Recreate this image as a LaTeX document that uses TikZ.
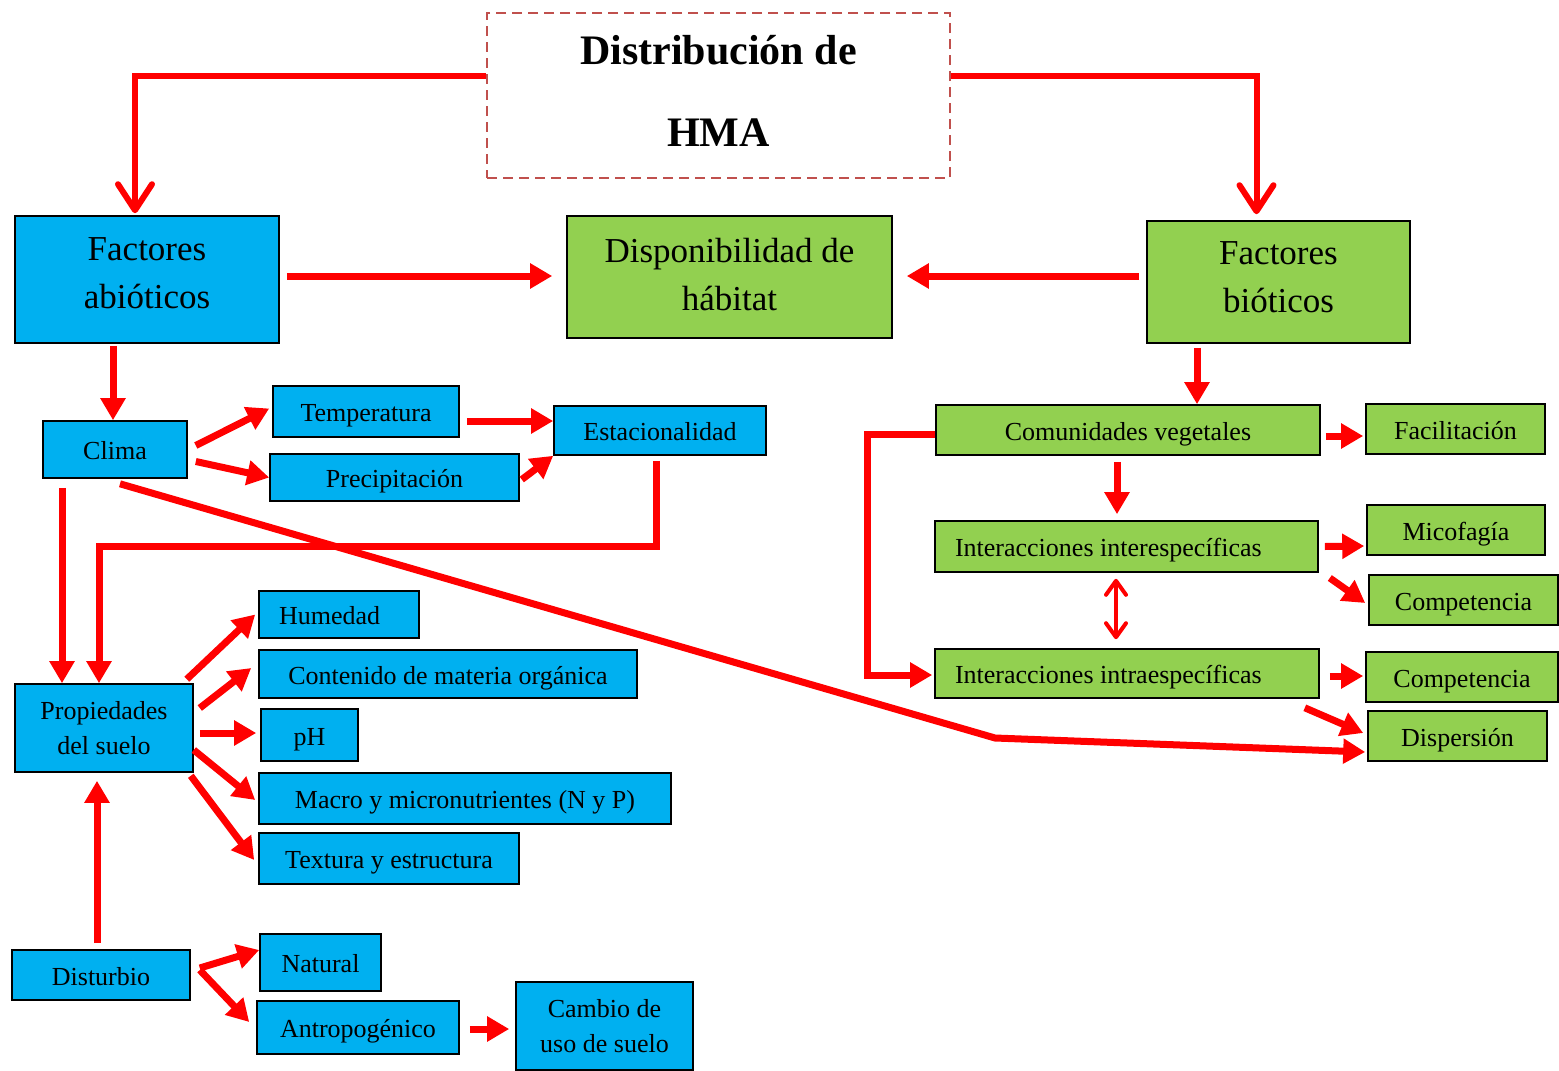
\documentclass[tikz,border=0pt]{standalone}
\usepackage{fontspec}
\setmainfont{Liberation Serif}
\usetikzlibrary{arrows.meta}
\definecolor{azul}{HTML}{00B0F0}
\definecolor{verde}{HTML}{92D050}
\definecolor{rojo}{HTML}{FF0000}
\definecolor{borde}{HTML}{C0504D}
\newcommand{\bajo}[1]{\rule[-#1]{0pt}{#1}}
\begin{document}
\begin{tikzpicture}[x=1pt,y=-1pt,
    caja/.style={draw=black, line width=1.6pt, inner sep=0pt},
    abiot/.style={caja, fill=azul},
    biot/.style={caja, fill=verde},
    grande/.style={font=\fontsize{35}{48}\selectfont, align=center},
    chica/.style={font=\fontsize{26}{35}\selectfont, align=center},
    una/.style={chica, text height=24pt, text depth=4pt},
    flecha/.style={draw=rojo, line width=7pt, -{Triangle[length=22pt,width=24pt]}},
    punta/.style={draw=rojo, line width=6pt, -{Straight Barb[length=26pt,width=34pt,round]}},
    doble/.style={draw=rojo, line width=4pt,
      {Straight Barb[length=14pt,width=20pt,round]}-{Straight Barb[length=14pt,width=20pt,round]}}]
        \useasboundingbox (0,0) rectangle (1559,1071);

        \node [draw=borde, line width=1.8pt, dash pattern=on 10pt off 6pt,
          minimum width=463pt, minimum height=165pt, align=center,
          font=\fontsize{42}{82}\selectfont\bfseries] (hma) at (718.5,95.5)
          {Distribución de\\HMA\bajo{10pt}};

        \node [abiot, grande, minimum width=264pt, minimum height=127pt] (abio) at (147,279.5) {Factores\\abióticos\bajo{12pt}};
        \node [biot, grande, minimum width=325pt, minimum height=122pt] (disp) at (729.5,277) {Disponibilidad de\\hábitat\bajo{6pt}};
        \node [biot, grande, minimum width=263pt, minimum height=122pt] (bio) at (1278.5,282) {Factores\\bióticos\bajo{10pt}};

        \node [abiot, una, minimum width=144pt, minimum height=57pt] (clima) at (115,449.5) {Clima};
        \node [abiot, una, minimum width=186pt, minimum height=51pt] (temp) at (366,411.5) {Temperatura};
        \node [abiot, una, minimum width=249pt, minimum height=47pt] (prec) at (394.5,477.5) {Precipitación};
        \node [abiot, una, minimum width=212pt, minimum height=49pt] (esta) at (660,430.5) {Estacionalidad};

        \node [abiot, chica, minimum width=178pt, minimum height=88pt] (prop) at (104,728) {Propiedades\\del suelo};
        \node [abiot, una, minimum width=160pt, minimum height=47pt] (hum) at (339,614.5) {\makebox[120pt][l]{Humedad}};
        \node [abiot, una, minimum width=378pt, minimum height=48pt] (cont) at (448,674) {Contenido de materia orgánica};
        \node [abiot, una, minimum width=97pt, minimum height=52pt] (ph) at (309.5,735) {pH};
        \node [abiot, una, minimum width=412pt, minimum height=51pt] (macro) at (465,798.5) {Macro y micronutrientes (N y P)};
        \node [abiot, una, minimum width=260pt, minimum height=51pt] (text) at (389,858.5) {Textura y estructura};

        \node [abiot, una, minimum width=178pt, minimum height=50pt] (dist) at (101,975) {Disturbio};
        \node [abiot, una, minimum width=121pt, minimum height=57pt] (nat) at (320.5,962.5) {Natural};
        \node [abiot, una, minimum width=202pt, minimum height=53pt] (antr) at (358,1027.5) {Antropogénico};
        \node [abiot, chica, minimum width=177pt, minimum height=88pt] (camb) at (604.5,1026) {Cambio de\\uso de suelo};

        \node [biot, una, minimum width=384pt, minimum height=50pt] (comu) at (1128,430) {Comunidades vegetales};
        \node [biot, una, minimum width=179pt, minimum height=50pt] (faci) at (1455.5,429) {Facilitación};
        \node [biot, una, minimum width=383pt, minimum height=51pt] (inter) at (1126.5,546.5) {\makebox[343pt][l]{Interacciones interespecíficas}};
        \node [biot, una, minimum width=178pt, minimum height=50pt] (mico) at (1456,530) {Micofagía};
        \node [biot, una, minimum width=189pt, minimum height=50pt] (comp1) at (1463.5,600) {Competencia};
        \node [biot, una, minimum width=384pt, minimum height=49pt] (intra) at (1127,673.5) {\makebox[344pt][l]{Interacciones intraespecíficas}};
        \node [biot, una, minimum width=192pt, minimum height=50pt] (comp2) at (1462,677) {Competencia};
        \node [biot, una, minimum width=179pt, minimum height=50pt] (dispe) at (1457.5,736) {Dispersión};

        \draw [punta] ([yshift=20pt]hma.west) -| ([xshift=-12pt,yshift=2pt]abio.north);
        \draw [punta] ([yshift=20pt]hma.east) -| ([xshift=-22pt,yshift=6pt]bio.north);

        \draw [flecha] ([xshift=7pt,yshift=3.5pt]abio.east) -- ([xshift=-14pt,yshift=1pt]disp.west);
        \draw [flecha] ([xshift=-7pt,yshift=6pt]bio.west) -- ([xshift=14pt,yshift=1pt]disp.east);
        \draw [flecha] ([xshift=-34pt,yshift=-2pt]abio.south) -- ([xshift=-2pt]clima.north);
        \draw [flecha] ([xshift=-81.5pt,yshift=-4pt]bio.south) -- ([xshift=69pt]comu.north);

        \draw [flecha] ([xshift=8pt,yshift=4pt]clima.east) -- ([xshift=-3pt,yshift=3pt]temp.west);
        \draw [flecha] ([xshift=8pt,yshift=-12pt]clima.east) -- (prec.west);
        \draw [flecha] ([xshift=7pt,yshift=-9.5pt]temp.east) -- ([yshift=9.5pt]esta.west);
        \draw [flecha] ([xshift=2pt,yshift=-2pt]prec.east) -- (esta.south west);
        \draw [flecha] ([xshift=-4pt,yshift=-5pt]esta.south) -- ++(0,86) -| ([xshift=-5pt]prop.north);
        \draw [flecha] ([xshift=-53pt,yshift=-9pt]clima.south) -- ([xshift=-42pt]prop.north);

        \coordinate (codo) at (995,738);
        \draw [flecha] ([xshift=5pt,yshift=-5pt]clima.south) -- (codo) -- ([xshift=-2pt,yshift=-16pt]dispe.west);

        \draw [flecha] ([xshift=-7pt,yshift=4pt]prop.north east) -- ([xshift=-3pt]hum.west);
        \draw [flecha] ([xshift=6pt,yshift=20pt]prop.east) -- ([xshift=-7pt,yshift=6pt]cont.west);
        \draw [flecha] ([xshift=6pt,yshift=-5pt]prop.east) -- ([xshift=-4pt,yshift=2pt]ph.west);
        \draw [flecha] ([yshift=-22pt]prop.east) -- ([xshift=-3pt,yshift=-1.5pt]macro.west);
        \draw [flecha] ([xshift=-3pt,yshift=-3pt]prop.south east) -- ([xshift=-4pt,yshift=-1.5pt]text.west);

        \draw [flecha] ([xshift=-4pt,yshift=6pt]dist.north) -- ([xshift=-7pt,yshift=-8pt]prop.south);
        \draw [flecha] ([xshift=9pt,yshift=7pt]dist.east) -- ([yshift=12.5pt]nat.west);
        \draw [flecha] ([xshift=9pt,yshift=5pt]dist.east) -- ([xshift=-7pt,yshift=5.5pt]antr.west);
        \draw [flecha] ([xshift=10pt,yshift=-1.5pt]antr.east) -- ([xshift=-6pt,yshift=-3pt]camb.west);

        \draw [flecha] ([yshift=-4pt]comu.west) -- ++(-68,0) |- ([xshift=-2pt,yshift=-1.5pt]intra.west);
        \draw [flecha] ([xshift=5pt,yshift=-6pt]comu.east) -- ([xshift=-2pt,yshift=-7pt]faci.west);
        \draw [flecha] ([xshift=-11pt,yshift=-6pt]comu.south) -- ([xshift=-9.5pt,yshift=6pt]inter.north);
        \draw [doble] ([xshift=-10.5pt,yshift=-6pt]inter.south) -- ([xshift=-11pt,yshift=9pt]intra.north);
        \draw [flecha] ([xshift=6pt]inter.east) -- ([xshift=-2pt,yshift=-16pt]mico.west);
        \draw [flecha] ([xshift=11pt,yshift=-31.5pt]inter.east) -- ([xshift=-3pt,yshift=-3pt]comp1.west);
        \draw [flecha] ([xshift=10pt,yshift=-2.5pt]intra.east) -- ([xshift=-2pt,yshift=1pt]comp2.west);
        \draw [flecha] ([xshift=-15pt,yshift=-9pt]intra.south east) -- ([xshift=-4pt,yshift=3pt]dispe.west);
      \end{tikzpicture}
\end{document}
